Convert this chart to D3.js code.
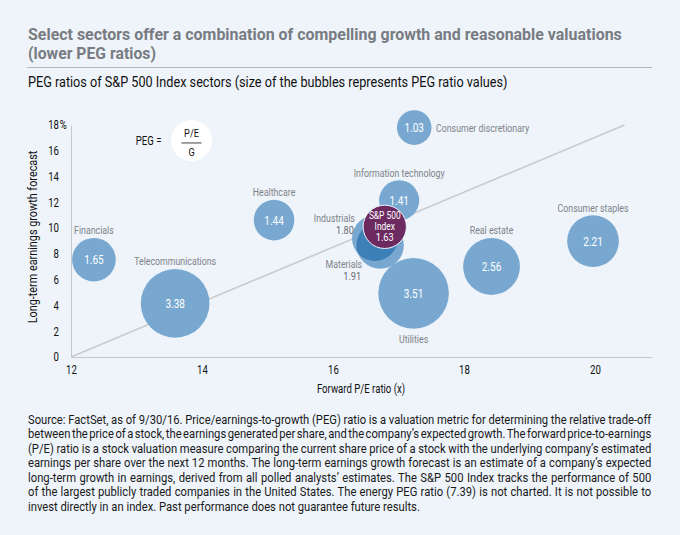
<!DOCTYPE html>
<html>
<head>
<meta charset="utf-8">
<script src="https://cdn.jsdelivr.net/npm/d3@7"></script>
<style>
  body { margin: 0; background: #eef4fa; }
  svg { display: block; }
  text { font-family: Roboto, "Noto Sans", sans-serif; }
</style>
</head>
<body>
<div id="chart"></div>
<script>
// sectors and their values
var sectors   = ["Financials", "Telecommunications", "Healthcare", "Industrials", "Materials",
                 "Information technology", "Consumer discretionary", "Utilities", "Real estate",
                 "Consumer staples", "S&P 500 Index"];
var forwardPE = [12.35, 13.59, 15.10, 16.64, 16.72, 17.01, 17.24, 17.23, 18.42, 19.97, 16.79];
var growth    = [7.55, 4.16, 10.62, 9.22, 8.68, 12.15, 17.8, 4.94, 7.02, 8.99, 10.1];
var pegRatio  = [1.65, 3.38, 1.44, 1.80, 1.91, 1.41, 1.03, 3.51, 2.56, 2.21, 1.63];

var xTicks = [12, 14, 16, 18, 20];
var yTicks = [0, 2, 4, 6, 8, 10, 12, 14, 16, 18];
var refLine = [[12, 0], [20.45, 18]];

var footnote = [
  "Source: FactSet, as of 9/30/16. Price/earnings-to-growth (PEG) ratio is a valuation metric for determining the relative trade-off",
  "between the price of a stock, the earnings generated per share, and the company\u2019s expected growth. The forward price-to-earnings",
  "(P/E) ratio is a stock valuation measure comparing the current share price of a stock with the underlying company\u2019s estimated",
  "earnings per share over the next 12 months. The long-term earnings growth forecast is an estimate of a company\u2019s expected",
  "long-term growth in earnings, derived from all polled analysts\u2019 estimates. The S&P 500 Index tracks the performance of 500",
  "of the largest publicly traded companies in the United States. The energy PEG ratio (7.39) is not charted. It is not possible to",
  "invest directly in an index. Past performance does not guarantee future results."
];

var data = sectors.map(function(s, i) {
    return {name: s, pe: forwardPE[i], g: growth[i], peg: pegRatio[i]};
});

var width = 680, height = 535;
var bubbleBlue = "#78a8d0", overlapBlue = "#3d80b8", sp500 = "#6d2a60";
var labelGrey = "#808389";
var narrow = 0.8;   // squeeze Roboto sideways so it looks like a condensed face

var svg = d3.select("#chart").append("svg")
        .attr("width", width)
        .attr("height", height);

svg.append("rect").attr("width", width).attr("height", height).attr("fill", "#eef4fa");

// squeeze a text sideways around its x anchor, by factor k
function squeeze(t, k) {
    var x0 = +t.attr("x") || 0;
    var tr = t.attr("transform") || "";
    t.attr("transform", tr + " translate(" + x0 + ",0) scale(" + k + ",1) translate(" + (-x0) + ",0)")
     .classed("squeezed", true);
    return t;
}
// squeeze so that it ends up w pixels wide
function fitTo(t, w) {
    return squeeze(t, w / t.node().getComputedTextLength());
}

// headings
fitTo(svg.append("text")
    .attr("x", 28).attr("y", 40)
    .style("font-size", "16.5px").style("font-weight", "bold").style("fill", "#787c82")
    .text("Select sectors offer a combination of compelling growth and reasonable valuations"), 594);
fitTo(svg.append("text")
    .attr("x", 28).attr("y", 59.5)
    .style("font-size", "16.5px").style("font-weight", "bold").style("fill", "#787c82")
    .text("(lower PEG ratios)"), 128);
svg.append("line")
    .attr("x1", 27).attr("x2", 652).attr("y1", 67.5).attr("y2", 67.5)
    .attr("stroke", "#b4b8be").attr("stroke-width", 1);
fitTo(svg.append("text")
    .attr("x", 28).attr("y", 87)
    .style("font-size", "14px").style("fill", "#111")
    .text("PEG ratios of S&P 500 Index sectors (size of the bubbles represents PEG ratio values)"), 480);

var x = d3.scaleLinear().domain([12, 20.87]).range([71, 652]);
var y = d3.scaleLinear().domain([0, 18]).range([357, 125]);
var r = d3.scaleLinear().domain([1.03, 3.51]).range([17.3, 35.3]);

// axes
var xAxis = d3.axisBottom(x).tickValues(xTicks).tickSize(0).tickPadding(8);
var yAxis = d3.axisLeft(y).tickValues(yTicks).tickSize(0).tickPadding(12);

var gx = svg.append("g")
        .attr("class", "x axis")
        .attr("transform", "translate(0," + y(0) + ")")
        .call(xAxis);
gx.select(".domain").attr("stroke", "#c4c7cc").attr("stroke-width", 1.2);
gx.selectAll("text").style("font-size", "12px").style("fill", "#111");

var gy = svg.append("g")
        .attr("class", "y axis")
        .attr("transform", "translate(" + x(12) + ",0)")
        .call(yAxis);
gy.select(".domain").attr("stroke", "#c4c7cc").attr("stroke-width", 1);
gy.selectAll("text").style("font-size", "12px").style("fill", "#111");
// percent sign after the top tick
gy.selectAll(".tick").filter(function(d) { return d === 18; })
    .append("text")
    .attr("x", -11.3).attr("dy", "0.32em")
    .attr("text-anchor", "start")
    .style("font-size", "12px").style("fill", "#111")
    .text("%");

svg.append("text")
    .attr("x", 361).attr("y", 393)
    .attr("text-anchor", "middle")
    .style("font-size", "12px").style("fill", "#111")
    .text("Forward P/E ratio (x)");
fitTo(svg.append("text")
    .attr("transform", "translate(37," + 237 + ") rotate(-90)")
    .attr("text-anchor", "middle")
    .style("font-size", "12.5px").style("fill", "#111")
    .text("Long-term earnings growth forecast"), 173);

// reference line
svg.append("path")
    .datum(refLine)
    .attr("fill", "none")
    .attr("stroke", "#c9cbcf")
    .attr("stroke-width", 1.6)
    .attr("d", d3.line().x(function(d) { return x(d[0]); }).y(function(d) { return y(d[1]); }));

// PEG formula
var fx = x(13.84), fy = y(16.8);
svg.append("circle").attr("cx", fx).attr("cy", fy).attr("r", 20.5).attr("fill", "#fff");
svg.append("text").attr("x", fx - 30).attr("y", fy + 5)
    .attr("text-anchor", "end").style("font-size", "12px").style("fill", "#111").text("PEG =");
svg.append("text").attr("x", fx).attr("y", fy - 3)
    .attr("text-anchor", "middle").style("font-size", "11.5px").style("fill", "#111").text("P/E");
svg.append("line").attr("x1", fx - 10).attr("x2", fx + 10).attr("y1", fy + 2.5).attr("y2", fy + 2.5)
    .attr("stroke", "#111").attr("stroke-width", 0.8);
svg.append("text").attr("x", fx).attr("y", fy + 15.5)
    .attr("text-anchor", "middle").style("font-size", "11.5px").style("fill", "#111").text("G");

// bubbles
var sectorsOnly = data.filter(function(d) { return d.name !== "S&P 500 Index"; });
var index = data.filter(function(d) { return d.name === "S&P 500 Index"; });

svg.selectAll("circle.bubble")
    .data(sectorsOnly)
  .enter().append("circle")
    .attr("class", "bubble")
    .attr("cx", function(d) { return x(d.pe); })
    .attr("cy", function(d) { return y(d.g); })
    .attr("r", function(d) { return r(d.peg); })
    .attr("fill", bubbleBlue);

// darker overlap of industrials and materials
var ind = data.find(function(d) { return d.name === "Industrials"; });
var mat = data.find(function(d) { return d.name === "Materials"; });
svg.append("clipPath").attr("id", "indClip")
  .append("circle")
    .attr("cx", x(ind.pe)).attr("cy", y(ind.g)).attr("r", r(ind.peg));
svg.append("circle")
    .attr("clip-path", "url(#indClip)")
    .attr("cx", x(mat.pe)).attr("cy", y(mat.g)).attr("r", r(mat.peg))
    .attr("fill", overlapBlue);

svg.selectAll("circle.index")
    .data(index)
  .enter().append("circle")
    .attr("class", "index")
    .attr("cx", function(d) { return x(d.pe); })
    .attr("cy", function(d) { return y(d.g); })
    .attr("r", function(d) { return r(d.peg); })
    .attr("fill", sp500)
    .attr("stroke", "#eef4fa").attr("stroke-width", 1);

// value labels inside the bubbles
var inside = sectorsOnly.filter(function(d) { return d !== ind && d !== mat; });
svg.selectAll("text.value")
    .data(inside)
  .enter().append("text")
    .attr("class", "value")
    .attr("x", function(d) { return x(d.pe); })
    .attr("y", function(d) { return y(d.g) + 4.5; })
    .attr("text-anchor", "middle")
    .style("font-size", "12.5px").style("fill", "#fff")
    .text(function(d) { return d.peg.toFixed(2); });

index.forEach(function(d) {
    ["S&P 500", "Index", d.peg.toFixed(2)].forEach(function(s, i) {
        svg.append("text")
            .attr("x", x(d.pe)).attr("y", y(d.g) - 8.3 + i * 11.2)
            .attr("text-anchor", "middle")
            .style("font-size", i === 2 ? "11.5px" : "10.5px").style("fill", "#fff")
            .text(s);
    });
});

// sector name labels
var labelSide = {
    "Financials": "top", "Telecommunications": "top", "Healthcare": "top",
    "Information technology": "top", "Real estate": "top", "Consumer staples": "top",
    "Utilities": "bottom", "Consumer discretionary": "right"
};
inside.forEach(function(d) {
    var cx = x(d.pe), cy = y(d.g), rr = r(d.peg), side = labelSide[d.name];
    var t = svg.append("text").style("font-size", "11px").style("fill", labelGrey).text(d.name);
    if (side === "top") t.attr("x", cx).attr("y", cy - rr - 3.7).attr("text-anchor", "middle");
    else if (side === "bottom") t.attr("x", cx).attr("y", cy + rr + 14).attr("text-anchor", "middle");
    else t.attr("x", cx + rr + 4.5).attr("y", cy + 4).attr("text-anchor", "start");
});

// industrials and materials, named beside the cluster
[[ind, -20, -16], [mat, -18, 22.5]].forEach(function(p) {
    var d = p[0], lx = x(d.pe) + p[1], ly = y(d.g) + p[2];
    svg.append("text").attr("x", lx).attr("y", ly).attr("text-anchor", "end")
        .style("font-size", "11px").style("fill", labelGrey).text(d.name);
    svg.append("text").attr("x", lx - 1).attr("y", ly + 12).attr("text-anchor", "end")
        .style("font-size", "11.5px").style("fill", "#6b6e73").text(d.peg.toFixed(2));
});

// footnote, justified between 28 and 652 with word spacing
var noteLeft = 28, noteRight = 652;
var notes = footnote.map(function(line, i) {
    return svg.append("text")
        .attr("x", noteLeft).attr("y", 424 + i * 14.47)
        .style("font-size", "12.5px").style("fill", "#1a1a1a")
        .text(line);
});
var noteK = d3.mean(notes.slice(0, -1), function(t) {
    return (noteRight - noteLeft) / t.node().getComputedTextLength();
});
notes.forEach(function(t, i) {
    if (i < notes.length - 1) {
        var w = t.node().getComputedTextLength();
        var gaps = t.text().split(" ").length - 1;
        t.style("word-spacing", ((noteRight - noteLeft) / noteK - w) / gaps + "px");
    }
    squeeze(t, noteK);
});

// everything else gets the same condensed look
svg.selectAll("text").filter(function() { return !this.classList.contains("squeezed"); })
    .each(function() { squeeze(d3.select(this), narrow); });
</script>
</body>
</html>
